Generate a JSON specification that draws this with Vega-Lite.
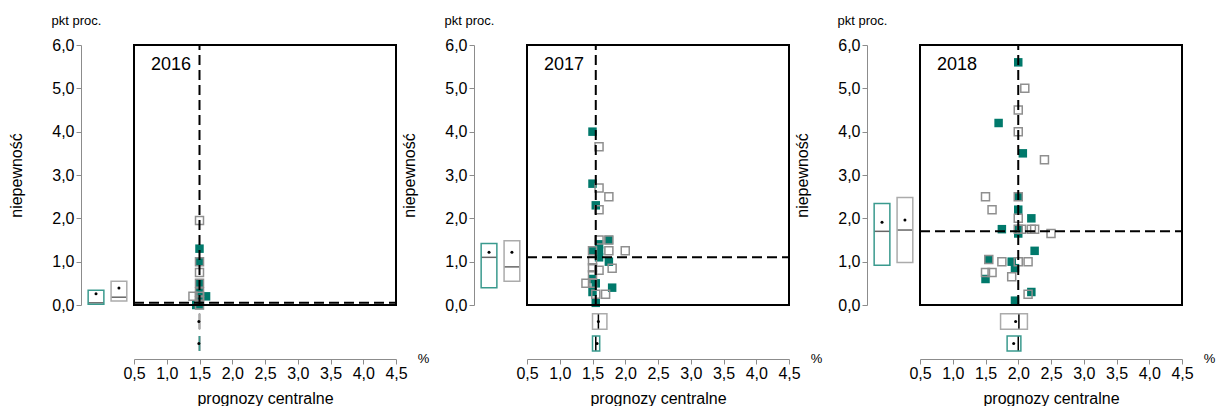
{
  "$schema": "https://vega.github.io/schema/vega-lite/v6.json",
  "background": "white",
  "padding": {"left": 8, "top": 15, "right": 0, "bottom": 0},
  "config": {
    "view": {"stroke": null},
    "font": "Liberation Sans",
    "locale": {"number": {"decimal": ",", "thousands": " ", "grouping": [3], "currency": ["", " zł"]}},
    "axis": {
      "grid": false,
      "domainColor": "#8c8c8c",
      "tickColor": "#8c8c8c",
      "tickSize": 5,
      "labelColor": "#000000",
      "labelFont": "Liberation Sans",
      "titleFont": "Liberation Sans",
      "titleFontSize": 16,
      "titleFontWeight": "normal",
      "titleColor": "#000000",
      "labelFlush": false
    }
  },
  "data": {
    "values": [
      {"rok": "2016", "typ": "punkt", "grupa": "obecna", "x": 1.5, "y": 1.3},
      {"rok": "2016", "typ": "punkt", "grupa": "obecna", "x": 1.5, "y": 1.0},
      {"rok": "2016", "typ": "punkt", "grupa": "obecna", "x": 1.5, "y": 0.5},
      {"rok": "2016", "typ": "punkt", "grupa": "obecna", "x": 1.6, "y": 0.2},
      {"rok": "2016", "typ": "punkt", "grupa": "obecna", "x": 1.5, "y": 0.4},
      {"rok": "2016", "typ": "punkt", "grupa": "obecna", "x": 1.5, "y": 0.3},
      {"rok": "2016", "typ": "punkt", "grupa": "obecna", "x": 1.5, "y": 0.2},
      {"rok": "2016", "typ": "punkt", "grupa": "obecna", "x": 1.5, "y": 0.1},
      {"rok": "2016", "typ": "punkt", "grupa": "obecna", "x": 1.5, "y": 0.0},
      {"rok": "2016", "typ": "punkt", "grupa": "obecna", "x": 1.45, "y": 0.0},
      {"rok": "2016", "typ": "punkt", "grupa": "poprzednia", "x": 1.5, "y": 1.95},
      {"rok": "2016", "typ": "punkt", "grupa": "poprzednia", "x": 1.5, "y": 1.0},
      {"rok": "2016", "typ": "punkt", "grupa": "poprzednia", "x": 1.5, "y": 0.75},
      {"rok": "2016", "typ": "punkt", "grupa": "poprzednia", "x": 1.5, "y": 0.5},
      {"rok": "2016", "typ": "punkt", "grupa": "poprzednia", "x": 1.5, "y": 0.3},
      {"rok": "2016", "typ": "punkt", "grupa": "poprzednia", "x": 1.4, "y": 0.2},
      {"rok": "2016", "typ": "punkt", "grupa": "poprzednia", "x": 1.5, "y": 0.2},
      {"rok": "2016", "typ": "punkt", "grupa": "poprzednia", "x": 1.5, "y": 0.1},
      {"rok": "2016", "typ": "punkt", "grupa": "poprzednia", "x": 1.5, "y": 0.0},
      {"rok": "2016", "typ": "box", "grupa": "obecna", "os": "y", "q1": 0.02, "med": 0.05, "q3": 0.34, "mean": 0.26},
      {"rok": "2016", "typ": "box", "grupa": "poprzednia", "os": "y", "q1": 0.09, "med": 0.18, "q3": 0.55, "mean": 0.39},
      {"rok": "2016", "typ": "box", "grupa": "obecna", "os": "x", "q1": 1.5, "med": 1.5, "q3": 1.5, "mean": 1.49},
      {"rok": "2016", "typ": "box", "grupa": "poprzednia", "os": "x", "q1": 1.5, "med": 1.5, "q3": 1.5, "mean": 1.49},

      {"rok": "2017", "typ": "punkt", "grupa": "obecna", "x": 1.5, "y": 4.0},
      {"rok": "2017", "typ": "punkt", "grupa": "obecna", "x": 1.5, "y": 2.8},
      {"rok": "2017", "typ": "punkt", "grupa": "obecna", "x": 1.55, "y": 2.3},
      {"rok": "2017", "typ": "punkt", "grupa": "obecna", "x": 1.75, "y": 1.5},
      {"rok": "2017", "typ": "punkt", "grupa": "obecna", "x": 1.6, "y": 1.4},
      {"rok": "2017", "typ": "punkt", "grupa": "obecna", "x": 1.6, "y": 1.25},
      {"rok": "2017", "typ": "punkt", "grupa": "obecna", "x": 1.6, "y": 1.1},
      {"rok": "2017", "typ": "punkt", "grupa": "obecna", "x": 1.5, "y": 1.25},
      {"rok": "2017", "typ": "punkt", "grupa": "obecna", "x": 1.75, "y": 1.0},
      {"rok": "2017", "typ": "punkt", "grupa": "obecna", "x": 1.5, "y": 0.6},
      {"rok": "2017", "typ": "punkt", "grupa": "obecna", "x": 1.55, "y": 0.5},
      {"rok": "2017", "typ": "punkt", "grupa": "obecna", "x": 1.5, "y": 0.3},
      {"rok": "2017", "typ": "punkt", "grupa": "obecna", "x": 1.8, "y": 0.4},
      {"rok": "2017", "typ": "punkt", "grupa": "obecna", "x": 1.55, "y": 0.05},
      {"rok": "2017", "typ": "punkt", "grupa": "poprzednia", "x": 1.6, "y": 3.65},
      {"rok": "2017", "typ": "punkt", "grupa": "poprzednia", "x": 1.6, "y": 2.7},
      {"rok": "2017", "typ": "punkt", "grupa": "poprzednia", "x": 1.75, "y": 2.5},
      {"rok": "2017", "typ": "punkt", "grupa": "poprzednia", "x": 1.6, "y": 2.2},
      {"rok": "2017", "typ": "punkt", "grupa": "poprzednia", "x": 1.6, "y": 1.5},
      {"rok": "2017", "typ": "punkt", "grupa": "poprzednia", "x": 1.75, "y": 1.5},
      {"rok": "2017", "typ": "punkt", "grupa": "poprzednia", "x": 1.5, "y": 1.25},
      {"rok": "2017", "typ": "punkt", "grupa": "poprzednia", "x": 1.75, "y": 1.25},
      {"rok": "2017", "typ": "punkt", "grupa": "poprzednia", "x": 2.0, "y": 1.25},
      {"rok": "2017", "typ": "punkt", "grupa": "poprzednia", "x": 1.5, "y": 1.02},
      {"rok": "2017", "typ": "punkt", "grupa": "poprzednia", "x": 1.5, "y": 0.86},
      {"rok": "2017", "typ": "punkt", "grupa": "poprzednia", "x": 1.6, "y": 0.8},
      {"rok": "2017", "typ": "punkt", "grupa": "poprzednia", "x": 1.8, "y": 0.85},
      {"rok": "2017", "typ": "punkt", "grupa": "poprzednia", "x": 1.5, "y": 0.7},
      {"rok": "2017", "typ": "punkt", "grupa": "poprzednia", "x": 1.4, "y": 0.5},
      {"rok": "2017", "typ": "punkt", "grupa": "poprzednia", "x": 1.5, "y": 0.5},
      {"rok": "2017", "typ": "punkt", "grupa": "poprzednia", "x": 1.55, "y": 0.25},
      {"rok": "2017", "typ": "punkt", "grupa": "poprzednia", "x": 1.7, "y": 0.25},
      {"rok": "2017", "typ": "box", "grupa": "obecna", "os": "y", "q1": 0.4, "med": 1.1, "q3": 1.42, "mean": 1.22},
      {"rok": "2017", "typ": "box", "grupa": "poprzednia", "os": "y", "q1": 0.55, "med": 0.88, "q3": 1.48, "mean": 1.22},
      {"rok": "2017", "typ": "box", "grupa": "obecna", "os": "x", "q1": 1.5, "med": 1.55, "q3": 1.61, "mean": 1.57},
      {"rok": "2017", "typ": "box", "grupa": "poprzednia", "os": "x", "q1": 1.5, "med": 1.59, "q3": 1.72, "mean": 1.59},

      {"rok": "2018", "typ": "punkt", "grupa": "obecna", "x": 2.0, "y": 5.6},
      {"rok": "2018", "typ": "punkt", "grupa": "obecna", "x": 1.7, "y": 4.2},
      {"rok": "2018", "typ": "punkt", "grupa": "obecna", "x": 2.07, "y": 3.5},
      {"rok": "2018", "typ": "punkt", "grupa": "obecna", "x": 2.0, "y": 2.5},
      {"rok": "2018", "typ": "punkt", "grupa": "obecna", "x": 2.0, "y": 2.2},
      {"rok": "2018", "typ": "punkt", "grupa": "obecna", "x": 2.2, "y": 2.0},
      {"rok": "2018", "typ": "punkt", "grupa": "obecna", "x": 1.75, "y": 1.75},
      {"rok": "2018", "typ": "punkt", "grupa": "obecna", "x": 2.0, "y": 1.75},
      {"rok": "2018", "typ": "punkt", "grupa": "obecna", "x": 2.0, "y": 1.65},
      {"rok": "2018", "typ": "punkt", "grupa": "obecna", "x": 2.25, "y": 1.25},
      {"rok": "2018", "typ": "punkt", "grupa": "obecna", "x": 1.55, "y": 1.05},
      {"rok": "2018", "typ": "punkt", "grupa": "obecna", "x": 1.9, "y": 1.0},
      {"rok": "2018", "typ": "punkt", "grupa": "obecna", "x": 1.95, "y": 0.85},
      {"rok": "2018", "typ": "punkt", "grupa": "obecna", "x": 1.5, "y": 0.6},
      {"rok": "2018", "typ": "punkt", "grupa": "obecna", "x": 2.2, "y": 0.3},
      {"rok": "2018", "typ": "punkt", "grupa": "obecna", "x": 1.95, "y": 0.1},
      {"rok": "2018", "typ": "punkt", "grupa": "poprzednia", "x": 2.1, "y": 5.0},
      {"rok": "2018", "typ": "punkt", "grupa": "poprzednia", "x": 2.0, "y": 4.5},
      {"rok": "2018", "typ": "punkt", "grupa": "poprzednia", "x": 2.0, "y": 4.0},
      {"rok": "2018", "typ": "punkt", "grupa": "poprzednia", "x": 2.4, "y": 3.35},
      {"rok": "2018", "typ": "punkt", "grupa": "poprzednia", "x": 1.5, "y": 2.5},
      {"rok": "2018", "typ": "punkt", "grupa": "poprzednia", "x": 2.0, "y": 2.5},
      {"rok": "2018", "typ": "punkt", "grupa": "poprzednia", "x": 1.6, "y": 2.2},
      {"rok": "2018", "typ": "punkt", "grupa": "poprzednia", "x": 2.0, "y": 2.0},
      {"rok": "2018", "typ": "punkt", "grupa": "poprzednia", "x": 2.0, "y": 1.75},
      {"rok": "2018", "typ": "punkt", "grupa": "poprzednia", "x": 2.05, "y": 1.75},
      {"rok": "2018", "typ": "punkt", "grupa": "poprzednia", "x": 2.2, "y": 1.75},
      {"rok": "2018", "typ": "punkt", "grupa": "poprzednia", "x": 2.25, "y": 1.75},
      {"rok": "2018", "typ": "punkt", "grupa": "poprzednia", "x": 2.5, "y": 1.65},
      {"rok": "2018", "typ": "punkt", "grupa": "poprzednia", "x": 1.55, "y": 1.05},
      {"rok": "2018", "typ": "punkt", "grupa": "poprzednia", "x": 1.75, "y": 1.0},
      {"rok": "2018", "typ": "punkt", "grupa": "poprzednia", "x": 2.0, "y": 1.0},
      {"rok": "2018", "typ": "punkt", "grupa": "poprzednia", "x": 2.15, "y": 1.0},
      {"rok": "2018", "typ": "punkt", "grupa": "poprzednia", "x": 1.5, "y": 0.75},
      {"rok": "2018", "typ": "punkt", "grupa": "poprzednia", "x": 1.6, "y": 0.75},
      {"rok": "2018", "typ": "punkt", "grupa": "poprzednia", "x": 1.9, "y": 0.65},
      {"rok": "2018", "typ": "punkt", "grupa": "poprzednia", "x": 2.15, "y": 0.25},
      {"rok": "2018", "typ": "box", "grupa": "obecna", "os": "y", "q1": 0.92, "med": 1.7, "q3": 2.34, "mean": 1.91},
      {"rok": "2018", "typ": "box", "grupa": "poprzednia", "os": "y", "q1": 0.98, "med": 1.73, "q3": 2.48, "mean": 1.96},
      {"rok": "2018", "typ": "box", "grupa": "obecna", "os": "x", "q1": 1.83, "med": 2.0, "q3": 2.04, "mean": 1.93},
      {"rok": "2018", "typ": "box", "grupa": "poprzednia", "os": "x", "q1": 1.73, "med": 2.01, "q3": 2.14, "mean": 1.96}
    ]
  },
  "facet": {"column": {"field": "rok", "type": "nominal", "header": null}},
  "spacing": 78,
  "bounds": "flush",
  "resolve": {"axis": {"x": "independent", "y": "independent"}},
  "spec": {
    "width": 315,
    "height": 314,
    "layer": [
      {
        "transform": [{"filter": "datum.typ === 'punkt' && datum.grupa === 'obecna'"}],
        "mark": {"type": "square", "size": 72, "filled": true, "color": "#00796b", "opacity": 1},
        "encoding": {
          "x": {
            "field": "x", "type": "quantitative",
            "scale": {"domain": [0.5, 4.5], "range": [53, 315], "nice": false, "zero": false},
            "axis": {
              "title": "prognozy  centralne",
              "values": [0.5, 1.0, 1.5, 2.0, 2.5, 3.0, 3.5, 4.0, 4.5],
              "tickCount": 20,
              "format": ".1f",
              "labelOverlap": false,
              "labelFontSize": 16,
              "labelPadding": 1,
              "titlePadding": 9
            }
          },
          "y": {
            "field": "y", "type": "quantitative",
            "scale": {"domain": [0, 6], "range": [260, 0], "nice": false, "zero": false},
            "axis": {
              "title": "niepewność",
              "values": [0, 1, 2, 3, 4, 5, 6],
              "tickCount": 20,
              "format": ".1f",
              "labelOverlap": false,
              "labelFontSize": 16,
              "labelPadding": 2,
              "titlePadding": 27
            }
          }
        }
      },
      {
        "transform": [{"filter": "datum.typ === 'punkt' && datum.grupa === 'poprzednia'"}],
        "mark": {"type": "square", "size": 64, "filled": false, "stroke": "#8f8f8f", "strokeWidth": 1.5, "opacity": 1},
        "encoding": {
          "x": {"field": "x", "type": "quantitative"},
          "y": {"field": "y", "type": "quantitative"}
        }
      },
      {
        "transform": [{"filter": "datum.typ === 'box' && datum.os === 'x' && datum.grupa === 'obecna'"}],
        "mark": {"type": "rule", "color": "#000000", "strokeWidth": 2, "strokeDash": [10, 5]},
        "encoding": {
          "x": {"field": "med", "type": "quantitative"},
          "y": {"datum": 0},
          "y2": {"datum": 6}
        }
      },
      {
        "transform": [{"filter": "datum.typ === 'box' && datum.os === 'y' && datum.grupa === 'obecna'"}],
        "mark": {"type": "rule", "color": "#000000", "strokeWidth": 2, "strokeDash": [10, 5]},
        "encoding": {
          "y": {"field": "med", "type": "quantitative"},
          "x": {"datum": 0.5},
          "x2": {"datum": 4.5}
        }
      },
      {
        "transform": [{"filter": "datum.typ === 'box' && datum.os === 'x' && datum.grupa === 'obecna'"}],
        "mark": {"type": "rect", "fill": null, "fillOpacity": 0, "stroke": "#000000", "strokeWidth": 2},
        "encoding": {
          "x": {"datum": 0.5},
          "x2": {"datum": 4.5},
          "y": {"datum": 0},
          "y2": {"datum": 6}
        }
      },
      {
        "transform": [{"filter": "datum.typ === 'box' && datum.os === 'x' && datum.grupa === 'obecna'"}],
        "mark": {"type": "text", "align": "left", "baseline": "middle", "fontSize": 18, "color": "#000000"},
        "encoding": {
          "text": {"field": "rok"},
          "x": {"datum": 0.76},
          "y": {"datum": 5.55}
        }
      },
      {
        "transform": [{"filter": "datum.typ === 'box' && datum.os === 'x' && datum.grupa === 'obecna'"}],
        "mark": {"type": "text", "align": "left", "baseline": "middle", "fontSize": 13, "color": "#000000", "text": "pkt proc."},
        "encoding": {
          "x": {"datum": -0.76},
          "y": {"datum": 6.55}
        }
      },
      {
        "transform": [{"filter": "datum.typ === 'box' && datum.os === 'x' && datum.grupa === 'obecna'"}],
        "mark": {"type": "text", "align": "center", "baseline": "middle", "fontSize": 13, "color": "#000000", "text": "%"},
        "encoding": {
          "x": {"datum": 4.92},
          "y": {"datum": -1.24}
        }
      },
      {
        "transform": [{"filter": "datum.typ === 'box' && datum.os === 'y' && datum.grupa === 'obecna'"}],
        "mark": {"type": "rule", "color": "#666666", "strokeWidth": 1.5},
        "encoding": {"y": {"field": "med", "type": "quantitative"}, "x": {"datum": -0.2}, "x2": {"datum": 0.04}}
      },
      {
        "transform": [{"filter": "datum.typ === 'box' && datum.os === 'y' && datum.grupa === 'obecna'"}],
        "mark": {"type": "rect", "fillOpacity": 0, "stroke": "#3a9a8e", "strokeWidth": 1.5},
        "encoding": {"y": {"field": "q1", "type": "quantitative"}, "y2": {"field": "q3"}, "x": {"datum": -0.2}, "x2": {"datum": 0.04}}
      },
      {
        "transform": [{"filter": "datum.typ === 'box' && datum.os === 'y' && datum.grupa === 'obecna'"}],
        "mark": {"type": "circle", "size": 9, "color": "#000000", "opacity": 1},
        "encoding": {"y": {"field": "mean", "type": "quantitative"}, "x": {"datum": -0.08}}
      },
      {
        "transform": [{"filter": "datum.typ === 'box' && datum.os === 'y' && datum.grupa === 'poprzednia'"}],
        "mark": {"type": "rule", "color": "#666666", "strokeWidth": 1.5},
        "encoding": {"y": {"field": "med", "type": "quantitative"}, "x": {"datum": 0.15}, "x2": {"datum": 0.39}}
      },
      {
        "transform": [{"filter": "datum.typ === 'box' && datum.os === 'y' && datum.grupa === 'poprzednia'"}],
        "mark": {"type": "rect", "fillOpacity": 0, "stroke": "#ababab", "strokeWidth": 1.5},
        "encoding": {"y": {"field": "q1", "type": "quantitative"}, "y2": {"field": "q3"}, "x": {"datum": 0.15}, "x2": {"datum": 0.39}}
      },
      {
        "transform": [{"filter": "datum.typ === 'box' && datum.os === 'y' && datum.grupa === 'poprzednia'"}],
        "mark": {"type": "circle", "size": 9, "color": "#000000", "opacity": 1},
        "encoding": {"y": {"field": "mean", "type": "quantitative"}, "x": {"datum": 0.27}}
      },
      {
        "transform": [{"filter": "datum.typ === 'box' && datum.os === 'x' && datum.grupa === 'poprzednia'"}],
        "mark": {"type": "rule", "color": "#000000", "strokeWidth": 1.5},
        "encoding": {"x": {"field": "med", "type": "quantitative"}, "y": {"datum": -0.2}, "y2": {"datum": -0.56}}
      },
      {
        "transform": [{"filter": "datum.typ === 'box' && datum.os === 'x' && datum.grupa === 'poprzednia'"}],
        "mark": {"type": "rect", "fillOpacity": 0, "stroke": "#ababab", "strokeWidth": 1.5},
        "encoding": {"x": {"field": "q1", "type": "quantitative"}, "x2": {"field": "q3"}, "y": {"datum": -0.2}, "y2": {"datum": -0.56}}
      },
      {
        "transform": [{"filter": "datum.typ === 'box' && datum.os === 'x' && datum.grupa === 'poprzednia'"}],
        "mark": {"type": "circle", "size": 9, "color": "#000000", "opacity": 1},
        "encoding": {"x": {"field": "mean", "type": "quantitative"}, "y": {"datum": -0.38}}
      },
      {
        "transform": [{"filter": "datum.typ === 'box' && datum.os === 'x' && datum.grupa === 'obecna'"}],
        "mark": {"type": "rule", "color": "#000000", "strokeWidth": 1.5},
        "encoding": {"x": {"field": "med", "type": "quantitative"}, "y": {"datum": -0.715}, "y2": {"datum": -1.06}}
      },
      {
        "transform": [{"filter": "datum.typ === 'box' && datum.os === 'x' && datum.grupa === 'obecna'"}],
        "mark": {"type": "rect", "fillOpacity": 0, "stroke": "#3a9a8e", "strokeWidth": 1.5},
        "encoding": {"x": {"field": "q1", "type": "quantitative"}, "x2": {"field": "q3"}, "y": {"datum": -0.715}, "y2": {"datum": -1.06}}
      },
      {
        "transform": [{"filter": "datum.typ === 'box' && datum.os === 'x' && datum.grupa === 'obecna'"}],
        "mark": {"type": "circle", "size": 9, "color": "#000000", "opacity": 1},
        "encoding": {"x": {"field": "mean", "type": "quantitative"}, "y": {"datum": -0.89}}
      }
    ]
  }
}
